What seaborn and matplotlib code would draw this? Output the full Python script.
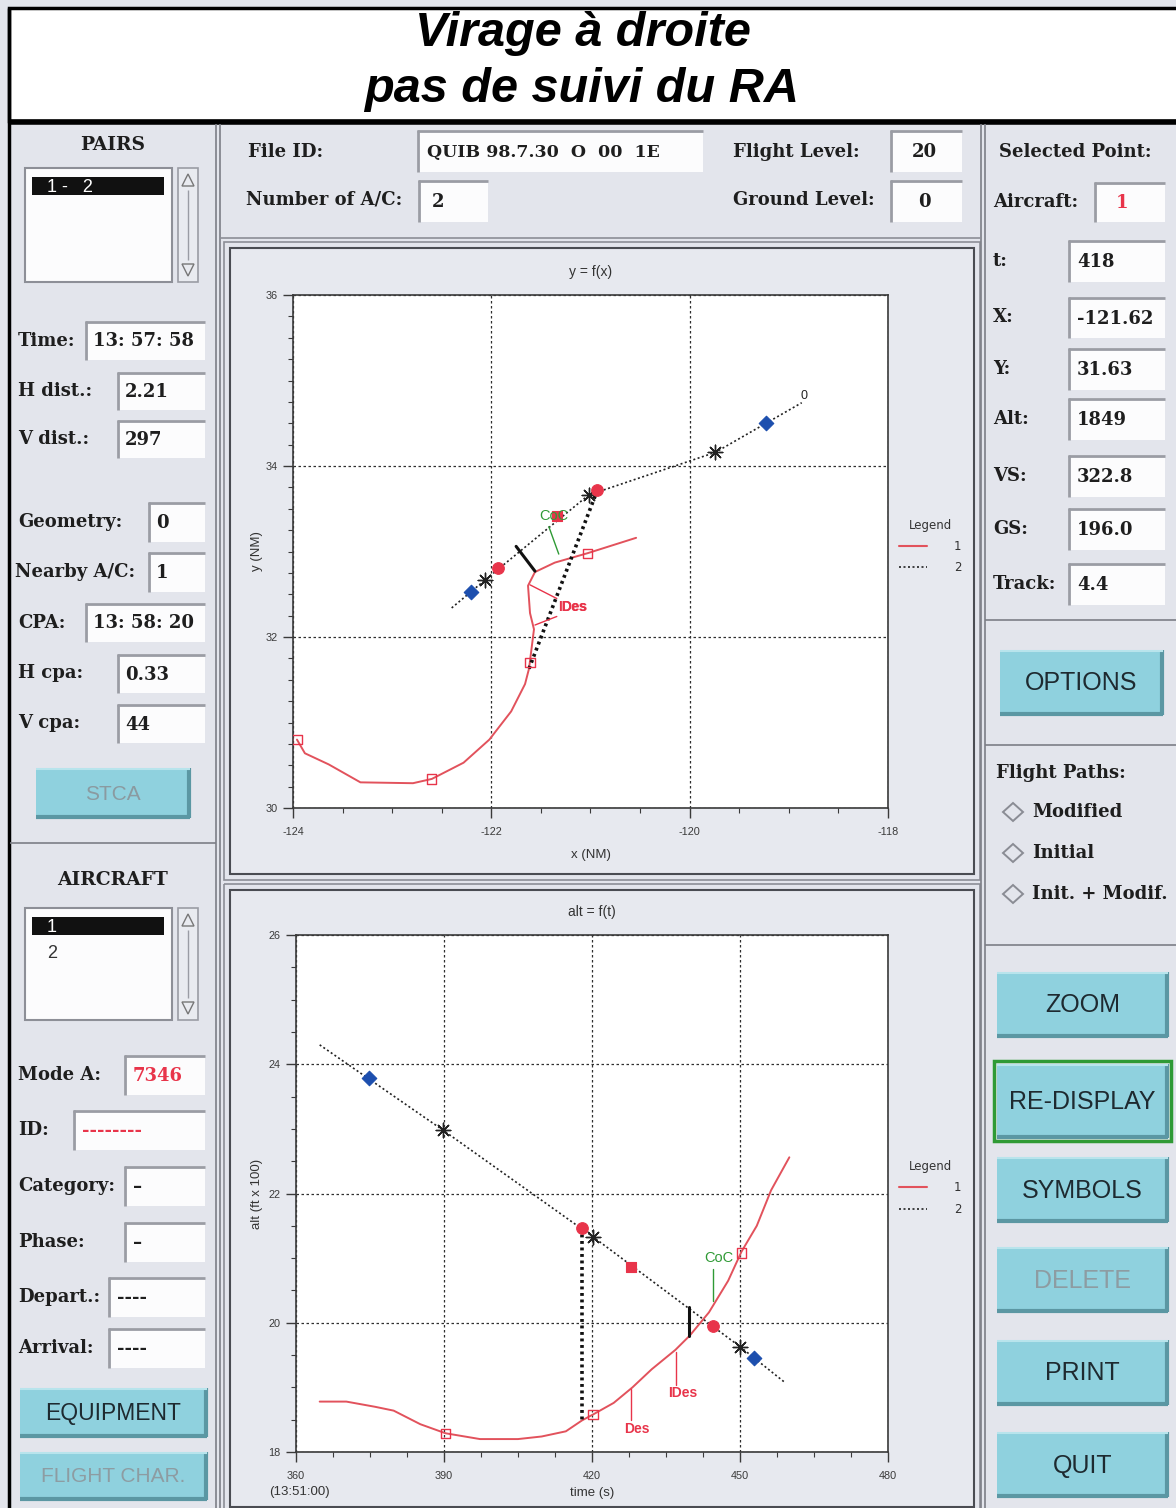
import numpy as np
import pandas as pd
import matplotlib
matplotlib.use("Agg")
import matplotlib.pyplot as plt
from matplotlib.patches import Rectangle, Polygon
from matplotlib.lines import Line2D
from matplotlib.ticker import MultipleLocator
import seaborn as sns

# ---------------------------------------------------------------- data
# Horizontal view y = f(x), positions in NM
track1_x = [-123.96, -123.88, -123.64, -123.32, -122.79, -122.60, -122.28, -122.02,
            -121.80, -121.66, -121.62, -121.57, -121.61, -121.63, -121.56, -121.36,
            -121.03, -120.54]
track1_y = [30.80, 30.64, 30.51, 30.30, 30.29, 30.34, 30.53, 30.80,
            31.13, 31.45, 31.63, 32.09, 32.28, 32.60, 32.76, 32.87,
            32.98, 33.16]
track2_x = [-122.40, -122.06, -121.02, -119.74, -118.87]
track2_y = [32.34, 32.67, 33.66, 34.16, 34.74]

tick1_x = [-123.96, -122.60, -121.61, -121.03]          # 30 s marks, A/C 1
tick1_y = [30.80, 30.34, 31.70, 32.98]
star2_x = [-122.06, -121.02, -119.74]                     # 30 s marks, A/C 2
star2_y = [32.67, 33.66, 34.16]
diam2_x = [-122.20, -119.23]
diam2_y = [32.53, 34.50]
circ2_x = [-121.93, -120.93]
circ2_y = [32.81, 33.72]
sq2_x = [-121.34]
sq2_y = [33.42]

sel_x, sel_y = -121.62, 31.63                              # selected point
pair_x = [-120.93, sel_x]                                  # separation at t = 418 s
pair_y = [33.72, sel_y]
cpa_x = [-121.75, -121.56]
cpa_y = [33.06, 32.77]
coc_x = [-121.42, -121.32]
coc_y = [33.29, 32.97]
des_x = [-121.61, -121.34]
des_y = [32.61, 32.45]
ides_x = [-121.56, -121.34]
ides_y = [32.14, 32.24]

# Vertical view alt = f(t), altitude in ft x 100
prof1_t = [364.8, 370.2, 376.0, 379.8, 385.2, 390.3, 397.3, 405.0, 409.8, 414.7,
           418.0, 420.2, 424.4, 428.2, 432.1, 436.9, 439.8, 443.7, 447.6, 450.3,
           453.4, 456.3, 460.0]
prof1_alt = [18.78, 18.78, 18.70, 18.64, 18.43, 18.29, 18.20, 18.20, 18.24, 18.32,
             18.49, 18.58, 18.76, 19.00, 19.28, 19.58, 19.80, 20.16, 20.65, 21.10,
             21.50, 22.05, 22.56]
prof2_t = [364.8, 389.8, 420.2, 450.0, 459.2]
prof2_alt = [24.30, 22.98, 21.33, 19.63, 19.07]

ptick1_t = [390.3, 420.2, 450.3]
ptick1_alt = [18.29, 18.58, 21.08]
pstar2_t = [389.8, 420.2, 450.0]
pstar2_alt = [22.98, 21.33, 19.63]
pdiam2_t = [374.8, 452.9]
pdiam2_alt = [23.79, 19.45]
pcirc2_t = [418.0, 444.5]
pcirc2_alt = [21.46, 19.95]
psq2_t = [427.9]
psq2_alt = [20.87]

sel_t, sel_alt = 418.0, 18.49
pcpa_t, pcpa_alt = [439.6, 439.6], [20.25, 19.80]
pcoc_t, pcoc_alt = [444.5, 444.5], [20.83, 20.34]
pdes_t, pdes_alt = [428.0, 428.0], [18.97, 18.49]
pides_t, pides_alt = [437.0, 437.0], [19.55, 19.04]

# Panel contents
pair_fields = [("Time:", "13: 57: 58"), ("H dist.:", "2.21"), ("V dist.:", "297"),
               ("Geometry:", "0"), ("Nearby A/C:", "1"), ("CPA:", "13: 58: 20"),
               ("H cpa:", "0.33"), ("V cpa:", "44")]
aircraft_fields = [("Mode A:", "7346"), ("ID:", "--------"), ("Category:", "–"),
                   ("Phase:", "–"), ("Depart.:", "----"), ("Arrival:", "----")]
point_fields = [("t:", "418"), ("X:", "-121.62"), ("Y:", "31.63"), ("Alt:", "1849"),
                ("VS:", "322.8"), ("GS:", "196.0"), ("Track:", "4.4")]
right_buttons = ["ZOOM", "RE-DISPLAY", "SYMBOLS", "DELETE", "PRINT", "QUIT"]
path_options = ["Modified", "Initial", "Init. + Modif."]

# ---------------------------------------------------------------- style
sns.set_theme(style="white")
plt.rcParams['font.family'] = ['DejaVu Sans']

GUI_BG = "#e3e5ec"
FRAME_BG = "#e7e9ef"
FIELD = "#fcfcfd"
BUTTON = "#8fd1de"
RED_LINE = "#e2525c"
RED = "#e8344a"
BLUE = "#1d4fae"
GREEN = "#2f9a35"
SERIF = "DejaVu Serif"
SANS = "Liberation Sans"
LBL = 13

W, H = 1176, 1508
fig = plt.figure(figsize=(W / 100, H / 100), dpi=100)
fig.patch.set_facecolor(GUI_BG)

bg = fig.add_axes([0, 0, 1, 1])
bg.set_xlim(0, W)
bg.set_ylim(H, 0)
bg.axis("off")


def rect(x0, y0, x1, y1, fc="none", ec="none", lw=1.0, z=1):
    bg.add_patch(Rectangle((x0, y0), x1 - x0, y1 - y0, facecolor=fc,
                           edgecolor=ec, linewidth=lw, zorder=z))


def hline(x0, x1, y, c="#8a8c94", lw=1.0):
    bg.plot([x0, x1], [y, y], color=c, lw=lw, zorder=2, solid_capstyle="butt")


def vline(x, y0, y1, c="#8a8c94", lw=1.0):
    bg.plot([x, x], [y0, y1], color=c, lw=lw, zorder=2, solid_capstyle="butt")


def label(x, y, s, size=LBL, ha="left", color="#1e1e1e", weight="bold", family=SERIF):
    bg.text(x, y, s, ha=ha, va="center", fontsize=size, color=color,
            fontweight=weight, family=family, zorder=5)


def field(x0, y0, x1, y1, s="", color="#1e1e1e", size=LBL, pad=10):
    rect(x0, y0, x1, y1, fc=FIELD, z=2)
    hline(x0, x1, y0 + 1, c="#9a9ca4", lw=2)
    vline(x0 + 1, y0, y1, c="#9a9ca4", lw=2)
    if s:
        label(x0 + pad, (y0 + y1) / 2 + 1, s, size=size, color=color)


def button(x0, y0, x1, y1, s, color="#1e2a30", edge=None, size=18):
    rect(x0, y0, x1, y1, fc=BUTTON, z=2)
    hline(x0, x1, y1 - 1.5, c="#5b97a3", lw=3)
    vline(x1 - 1.5, y0, y1, c="#5b97a3", lw=3)
    hline(x0, x1, y0 + 1, c="#b8e4ec", lw=1.5)
    if edge:
        rect(x0 - 3, y0 - 3, x1 + 3, y1 + 3, ec=edge, lw=2.5, z=3)
    bg.text((x0 + x1) / 2, (y0 + y1) / 2 + 1, s, ha="center", va="center",
            fontsize=size, color=color, family=SANS, zorder=5)


def listbox(x0, y0, x1, y1, rows, sb_x):
    rect(x0, y0, x1, y1, fc=FIELD, ec="#8d8f97", lw=1.5, z=2)
    rect(sb_x, y0, sb_x + 20, y1, fc="#e9ebf0", ec="#9a9ca4", lw=1.2, z=2)
    bg.add_patch(Polygon([[sb_x + 4, y0 + 18], [sb_x + 16, y0 + 18], [sb_x + 10, y0 + 6]],
                         closed=True, fc="none", ec="#777", lw=1, zorder=3))
    bg.add_patch(Polygon([[sb_x + 4, y1 - 18], [sb_x + 16, y1 - 18], [sb_x + 10, y1 - 6]],
                         closed=True, fc="none", ec="#777", lw=1, zorder=3))
    vline(sb_x + 10, y0 + 22, y1 - 22, c="#9a9ca4", lw=1)
    for i, (txt, sel) in enumerate(rows):
        ry = y0 + 18 + i * 26
        if sel:
            rect(x0 + 7, ry - 9, x1 - 8, ry + 9, fc="#111111", z=3)
        bg.text(x0 + 22, ry + 1, txt, ha="left", va="center", fontsize=13,
                color="white" if sel else "#333", family=SANS, zorder=5)


# ---------------------------------------------------------------- title block
rect(9, 8, W + 5, 121, fc="white", ec="black", lw=2.5, z=1)
hline(9, W, 122, c="black", lw=4)
vline(9, 8, H, c="black", lw=2.5)
bg.text(583, 33, "Virage à droite", ha="center", va="center", fontsize=35,
        style="italic", fontweight="bold", family=SANS, color="black", zorder=5)
bg.text(582, 90, "pas de suivi du RA", ha="center", va="center", fontsize=35,
        style="italic", fontweight="bold", family=SANS, color="black", zorder=5)

# panel separators
for x in (218, 983):
    vline(x - 2, 124, H, c="#7c7e86", lw=1.2)
    vline(x + 2, 124, H, c="#7c7e86", lw=1.2)
hline(10, 216, 843, c="#7c7e86", lw=1.2)
for y in (620, 745, 945):
    hline(985, W, y, c="#7c7e86", lw=1.2)
hline(220, 981, 238, c="#8c8e96", lw=1.2)

# ---------------------------------------------------------------- left panel
label(113, 145, "PAIRS", ha="center", size=13.5)
listbox(25, 168, 172, 282, [("1 -   2", True)], 178)

pair_boxes = [(85, 321, 205, 360), (117, 372, 205, 410), (117, 420, 205, 458),
              (148, 502, 205, 542), (148, 552, 205, 592), (85, 603, 205, 642),
              (117, 654, 205, 693), (117, 704, 205, 743)]
for (name, val), (x0, y0, x1, y1) in zip(pair_fields, pair_boxes):
    label(15 if name.startswith("Nearby") else 18, (y0 + y1) / 2, name)
    field(x0, y0, x1, y1, val, pad=8)
button(36, 768, 190, 818, "STCA", color="#8a9aa0", size=15)

label(113, 880, "AIRCRAFT", ha="center", size=13.5)
listbox(25, 908, 172, 1020, [("1", True), ("2", False)], 178)

ac_boxes = [(124, 1055, 205, 1095), (73, 1110, 205, 1150), (124, 1166, 205, 1206),
            (124, 1222, 205, 1262), (108, 1277, 205, 1317), (108, 1328, 205, 1368)]
for (name, val), (x0, y0, x1, y1) in zip(aircraft_fields, ac_boxes):
    label(18, (y0 + y1) / 2, name)
    col = RED if name in ("Mode A:", "ID:") else "#1e1e1e"
    field(x0, y0, x1, y1, val, color=col, pad=9)
button(20, 1388, 207, 1437, "EQUIPMENT", size=16.5)
button(20, 1452, 207, 1500, "FLIGHT CHAR.", color="#8d9ca2", size=15)

# ---------------------------------------------------------------- header fields
label(248, 152, "File ID:")
field(417, 130, 703, 172, "QUIB 98.7.30  O  00  1E", pad=10, size=12.5)
label(733, 152, "Flight Level:")
field(890, 130, 962, 172, "20", pad=22)
label(246, 200, "Number of A/C:")
field(418, 180, 488, 222, "2", pad=14)
label(733, 200, "Ground Level:")
field(890, 180, 962, 222, "0", pad=28)

# ---------------------------------------------------------------- right panel
label(1075, 152, "Selected Point:", ha="center")
label(993, 202, "Aircraft:")
field(1094, 182, 1165, 222, "1", color=RED, pad=22)
pt_boxes = [(1068, 240, 1165, 282), (1068, 297, 1165, 338), (1068, 348, 1165, 390),
            (1068, 398, 1165, 440), (1068, 455, 1165, 497), (1068, 508, 1165, 550),
            (1068, 563, 1165, 605)]
for (name, val), (x0, y0, x1, y1) in zip(point_fields, pt_boxes):
    label(993, (y0 + y1) / 2, name)
    field(x0, y0, x1, y1, val, pad=9)

button(1000, 650, 1163, 715, "OPTIONS")
label(996, 773, "Flight Paths:")
for i, opt in enumerate(path_options):
    cy = 812 + i * 41
    bg.add_patch(Polygon([[1003, cy], [1013, cy - 9], [1023, cy], [1013, cy + 9]],
                         closed=True, fc="none", ec="#8a8c94", lw=1.4, zorder=3))
    label(1032, cy, opt)

btn_boxes = [(997, 972, 1168, 1037), (997, 1064, 1168, 1138), (997, 1157, 1168, 1222),
             (997, 1247, 1168, 1312), (997, 1340, 1168, 1405), (997, 1432, 1168, 1497)]
for name, (x0, y0, x1, y1) in zip(right_buttons, btn_boxes):
    button(x0, y0, x1, y1, name,
           color="#8d9ca2" if name == "DELETE" else "#1e2a30",
           edge=GREEN if name == "RE-DISPLAY" else None)

# ---------------------------------------------------------------- plot frames
for (x0, y0, x1, y1) in [(224, 242, 980, 880), (224, 884, 980, H + 5)]:
    rect(x0, y0, x1, y1, ec="#8c8e96", lw=1.2, z=1)
    rect(x0 + 6, y0 + 6, x1 - 6, y1 - 6, fc=FRAME_BG, ec="#4a4c52", lw=1.5, z=1)


def data_axes(x0, y0, x1, y1):
    ax = fig.add_axes([x0 / W, 1 - y1 / H, (x1 - x0) / W, (y1 - y0) / H])
    ax.set_facecolor("white")
    for sp in ax.spines.values():
        sp.set_color("#3a3a3a")
        sp.set_linewidth(1.2)
    ax.tick_params(axis="both", which="major", direction="out", length=7, width=1,
                   color="#3a3a3a", labelsize=7.8, labelcolor="#3a3a3a",
                   bottom=True, left=True, pad=4)
    ax.tick_params(axis="x", which="major", pad=7)
    ax.tick_params(axis="both", which="minor", direction="out", length=3.5, width=0.8,
                   color="#3a3a3a", bottom=True, left=True)
    ax.grid(True, which="major", color="#2e2e2e", linestyle=(0, (2, 2)), linewidth=0.9)
    return ax


def legend(ax):
    handles = [Line2D([], [], color=RED_LINE, lw=1.5),
               Line2D([], [], color="#222", lw=1.2, linestyle=(0, (1.2, 1.5)))]
    lg = ax.legend(handles, ["1", "2"], title="Legend", loc="upper left",
                   bbox_to_anchor=(1.0, 0.585), frameon=False, fontsize=8.5,
                   title_fontsize=8.5, handlelength=2.4, handletextpad=2.3,
                   labelspacing=0.7, borderaxespad=0.5)
    for t in lg.get_texts():
        t.set_color("#333")
    lg.get_title().set_color("#333")


def scatter_marks(ax, x, y, marker, s, fc, ec, lw=0.8, z=4):
    sns.scatterplot(x=x, y=y, marker=marker, s=s, color=fc, edgecolor=ec,
                    linewidth=lw, ax=ax, zorder=z, legend=False)


# ---------------------------------------------------------------- y = f(x)
ax1 = data_axes(293, 295, 888, 808)
sns.lineplot(x=track1_x, y=track1_y, sort=False, estimator=None, color=RED_LINE,
             lw=1.4, ax=ax1, zorder=3)
sns.lineplot(x=track2_x, y=track2_y, sort=False, estimator=None, color="#222",
             lw=1.2, linestyle=(0, (1.2, 1.5)), ax=ax1, zorder=3)
sns.lineplot(x=pair_x, y=pair_y, sort=False, estimator=None, color="#111",
             lw=2.6, linestyle=(0, (0.8, 1.0)), ax=ax1, zorder=3)
sns.lineplot(x=cpa_x, y=cpa_y, sort=False, estimator=None, color="#111", lw=2.2,
             ax=ax1, zorder=3)
sns.lineplot(x=coc_x, y=coc_y, sort=False, estimator=None, color=GREEN, lw=1.0,
             ax=ax1, zorder=3)
sns.lineplot(x=des_x, y=des_y, sort=False, estimator=None, color=RED, lw=1.0,
             ax=ax1, zorder=3)
sns.lineplot(x=ides_x, y=ides_y, sort=False, estimator=None, color=RED, lw=1.0,
             ax=ax1, zorder=3)
scatter_marks(ax1, tick1_x, tick1_y, "s", 45, "none", RED, lw=1.0)
scatter_marks(ax1, star2_x, star2_y, (8, 2, 0), 110, "#222", "#222", lw=1.0)
scatter_marks(ax1, diam2_x, diam2_y, "D", 55, BLUE, BLUE)
scatter_marks(ax1, circ2_x, circ2_y, "o", 70, RED, RED)
scatter_marks(ax1, sq2_x, sq2_y, "s", 45, RED, RED)
ax1.text(coc_x[0] + 0.05, coc_y[0] + 0.13, "CoC", color=GREEN, fontsize=10.5,
         ha="center", va="center", family=SANS, zorder=5)
# the two descent labels are printed on top of each other
ax1.text(-121.33, 32.35, "IDes", color=RED, fontsize=10, fontweight="bold",
         ha="left", va="center", family=SANS, zorder=5)
ax1.text(-121.30, 32.35, "Des", color=RED, fontsize=10, fontweight="bold",
         ha="left", va="center", family=SANS, zorder=5)
ax1.text(track2_x[-1] + 0.02, track2_y[-1] + 0.08, "0", color="#222", fontsize=9,
         ha="center", va="center", family=SANS, zorder=5)
ax1.set_xlim(-124, -118)
ax1.set_ylim(30, 36)
ax1.xaxis.set_minor_locator(MultipleLocator(0.5))
ax1.yaxis.set_minor_locator(MultipleLocator(0.25))
ax1.set_xticks([-124, -122, -120, -118])
ax1.set_xticklabels(["-124", "-122", "-120", "-118"], family=SANS, fontsize=7.8)
ax1.set_yticks([30, 32, 34, 36])
ax1.set_yticklabels(["30", "32", "34", "36"], family=SANS, fontsize=7.8)
ax1.set_title("y = f(x)", fontsize=10, color="#333", pad=14, family=SANS)
ax1.set_xlabel("x (NM)", fontsize=9.5, color="#333", labelpad=8, family=SANS)
ax1.set_ylabel("y (NM)", fontsize=9.5, color="#333", labelpad=2, family=SANS)
legend(ax1)

# ---------------------------------------------------------------- alt = f(t)
ax2 = data_axes(296, 935, 888, 1452)
sns.lineplot(x=prof1_t, y=prof1_alt, sort=False, estimator=None, color=RED_LINE,
             lw=1.4, ax=ax2, zorder=3)
sns.lineplot(x=prof2_t, y=prof2_alt, sort=False, estimator=None, color="#222",
             lw=1.2, linestyle=(0, (1.2, 1.5)), ax=ax2, zorder=3)
sns.lineplot(x=[sel_t, sel_t], y=[pcirc2_alt[0], sel_alt], sort=False, estimator=None,
             color="#111", lw=2.6, linestyle=(0, (0.8, 1.0)), ax=ax2, zorder=3)
sns.lineplot(x=pcpa_t, y=pcpa_alt, sort=False, estimator=None, color="#111", lw=2.2,
             ax=ax2, zorder=3)
sns.lineplot(x=pcoc_t, y=pcoc_alt, sort=False, estimator=None, color=GREEN, lw=1.0,
             ax=ax2, zorder=3)
sns.lineplot(x=pdes_t, y=pdes_alt, sort=False, estimator=None, color=RED, lw=1.0,
             ax=ax2, zorder=3)
sns.lineplot(x=pides_t, y=pides_alt, sort=False, estimator=None, color=RED, lw=1.0,
             ax=ax2, zorder=3)
scatter_marks(ax2, ptick1_t, ptick1_alt, "s", 45, "none", RED, lw=1.0)
scatter_marks(ax2, pstar2_t, pstar2_alt, (8, 2, 0), 110, "#222", "#222", lw=1.0)
scatter_marks(ax2, pdiam2_t, pdiam2_alt, "D", 55, BLUE, BLUE)
scatter_marks(ax2, pcirc2_t, pcirc2_alt, "o", 70, RED, RED)
scatter_marks(ax2, psq2_t, psq2_alt, "s", 45, RED, RED)
ax2.text(pcoc_t[0] + 1.3, pcoc_alt[0] + 0.17, "CoC", color=GREEN, fontsize=10.5,
         ha="center", va="center", family=SANS, zorder=5)
ax2.text(pdes_t[0] + 1.0, pdes_alt[1] - 0.13, "Des", color=RED, fontsize=10,
         fontweight="bold", ha="center", va="center", family=SANS, zorder=5)
ax2.text(pides_t[0] + 1.4, pides_alt[1] - 0.12, "IDes", color=RED, fontsize=10,
         fontweight="bold", ha="center", va="center", family=SANS, zorder=5)
ax2.set_xlim(360, 480)
ax2.set_ylim(18, 26)
ax2.xaxis.set_minor_locator(MultipleLocator(7.5))
ax2.yaxis.set_minor_locator(MultipleLocator(0.5))
ax2.set_xticks([360, 390, 420, 450, 480])
ax2.set_xticklabels(["360", "390", "420", "450", "480"], family=SANS, fontsize=7.8)
ax2.set_yticks([18, 20, 22, 24, 26])
ax2.set_yticklabels(["18", "20", "22", "24", "26"], family=SANS, fontsize=7.8)
ax2.set_title("alt = f(t)", fontsize=10, color="#333", pad=14, family=SANS)
ax2.set_xlabel("time (s)", fontsize=9.5, color="#333", labelpad=4, family=SANS)
ax2.set_ylabel("alt (ft x 100)", fontsize=9.5, color="#333", labelpad=4, family=SANS)
ax2.text(-0.045, -0.078, "(13:51:00)", transform=ax2.transAxes, fontsize=9.5,
         color="#333", family=SANS, ha="left", va="center")
legend(ax2)

fig.savefig("out.png", dpi=100, facecolor=fig.get_facecolor())
